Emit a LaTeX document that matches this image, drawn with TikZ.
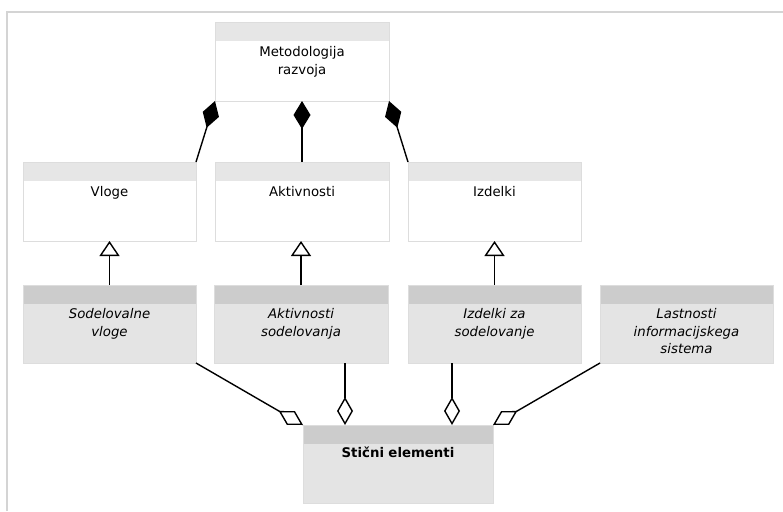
\documentclass[tikz,border=0pt]{standalone}
\usepackage{fontspec}
\setmainfont{DejaVu Sans}
\usetikzlibrary{arrows.meta,calc}
\definecolor{framegray}{HTML}{D4D4D4}
\definecolor{edgegray}{HTML}{DDDDDD}
\definecolor{hdrlight}{HTML}{E6E6E6}
\definecolor{hdrdark}{HTML}{CCCCCC}
\definecolor{bodygray}{HTML}{E4E4E4}
\begin{document}
\begin{tikzpicture}[x=1pt,y=-1pt,
  classbase/.style={draw=edgegray, line width=0.8pt, inner sep=0pt, outer sep=0pt,
    minimum width=174pt, minimum height=79pt},
  openclass/.style={classbase, fill=white,
    path picture={\fill[hdrlight] (path picture bounding box.north west)
      rectangle ([yshift=-19pt]path picture bounding box.north east);}},
  collabclass/.style={classbase, fill=bodygray, minimum height=78pt,
    path picture={\fill[hdrdark] (path picture bounding box.north west)
      rectangle ([yshift=-19pt]path picture bounding box.north east);}},
  lbl/.style={anchor=base, inner sep=0pt, text width=170pt, align=center,
    font=\fontsize{13.3}{17.8}\selectfont},
  comp/.style={line width=1.4pt, -{Diamond[length=28pt,width=17pt,fill=black]}},
  gen/.style={line width=1.4pt, -{Triangle[open,length=15pt,width=20pt,fill=white]}},
  agg/.style={line width=1.4pt, -{Diamond[open,length=28pt,width=16pt,fill=white]}}
]
\useasboundingbox (0,0) rectangle (783,511);

% outer frame
\draw[framegray, line width=2.5pt] (7,511) -- (7,12) -- (783,12);

% method classes
\node[openclass] (meto) at (302,61.5) {};
\node[openclass, minimum width=173pt] (vloge) at (109.5,201.5) {};
\node[openclass] (akt) at (302,201.5) {};
\node[openclass, minimum width=173pt] (izd) at (494.5,201.5) {};

% collaboration classes
\node[collabclass, minimum width=173pt] (sodv) at (109.5,324) {};
\node[collabclass] (aks) at (301,324) {};
\node[collabclass, minimum width=173pt] (izs) at (494.5,324) {};
\node[collabclass, minimum width=173pt] (lis) at (686.5,324) {};
\node[collabclass, minimum width=190pt] (stik) at (398,464) {};

% labels
\node[lbl] (meto-l) at (302,56.7) {Metodologija\\razvoja};
\node[lbl] (vloge-l) at (109.5,196.7) {Vloge};
\node[lbl] (akt-l) at (302,196.7) {Aktivnosti};
\node[lbl] (izd-l) at (494.5,196.7) {Izdelki};
\node[lbl] (sodv-l) at (109.5,318.3) {\itshape Sodelovalne\\vloge};
\node[lbl] (aks-l) at (301,318.3) {\itshape Aktivnosti\\sodelovanja};
\node[lbl] (izs-l) at (494.5,318.3) {\itshape Izdelki za\\sodelovanje};
\node[lbl] (lis-l) at (686.5,318.3) {\itshape Lastnosti\\informacijskega\\sistema};
\node[lbl] (stik-l) at (398,457) {\bfseries Stični elementi};

% composition
\draw[comp] (vloge.north east) -- (meto.south west);
\draw[comp] (akt.north) -- (meto.south);
\draw[comp] (izd.north west) -- (meto.south east);

% generalization
\draw[gen] (sodv.north) -- (vloge.south);
\draw[gen] (aks.north) -- (akt.south -| aks.north);
\draw[gen] (izs.north) -- (izd.south);

% aggregation into the interface elements
\coordinate (s1) at ($(stik.north west)+(42,0)$);
\coordinate (s2) at ($(stik.north east)+(-41,0)$);
\draw[agg] (sodv.south east) -- (stik.north west);
\draw[agg] (aks.south -| s1) -- (s1);
\draw[agg] (izs.south -| s2) -- (s2);
\draw[agg] (lis.south west) -- (stik.north east);
\end{tikzpicture}
\end{document}
